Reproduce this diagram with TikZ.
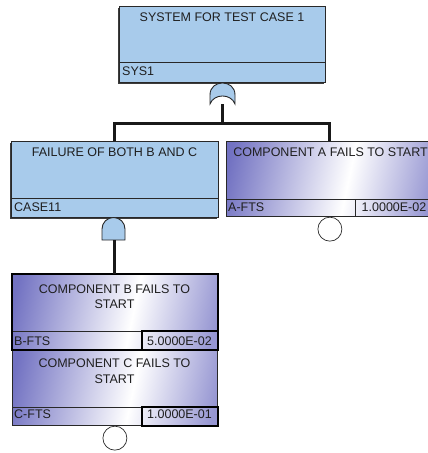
\documentclass[tikz,border=0pt]{standalone}
\usepackage{fontspec}
\setmainfont{Liberation Sans}
\usetikzlibrary{shadows}

\definecolor{gatefill}{RGB}{168,203,235}
\definecolor{evdark}{RGB}{114,114,194}
\definecolor{evlight}{RGB}{150,150,210}
\definecolor{boxedge}{RGB}{40,40,40}
\definecolor{shadowgray}{RGB}{60,60,60}
\definecolor{wire}{RGB}{25,25,25}

% basic-event fill: violet at the edges, white just right of centre
\pgfdeclarehorizontalshading{eventshade}{100bp}{%
  color(0bp)=(evdark); color(22bp)=(evdark); color(55bp)=(white);
  color(78bp)=(evlight); color(100bp)=(evlight)}

\tikzset{
  txt/.style={font=\fontsize{12.5}{15}\selectfont, inner sep=0pt, text=black!88},
  titletxt/.style={txt, anchor=base},
  idtxt/.style={txt, anchor=base west},
  valtxt/.style={txt, anchor=base},
  gatebox/.style={draw=boxedge, line width=0.8pt, fill=gatefill, anchor=north west,
    inner sep=0pt, drop shadow={shadow xshift=-1.3pt, shadow yshift=-1.3pt,
    fill=shadowgray, opacity=1}},
  eventbox/.style={draw=boxedge, line width=0.8pt, shading=eventshade, shading angle=-12,
    anchor=north west, inner sep=0pt},
  valcell/.style={draw=boxedge, line width=0.8pt, anchor=north west, inner sep=0pt},
  divider/.style={draw=boxedge, line width=0.8pt},
  conn/.style={draw=wire, line width=3pt, line join=miter},
  gateshape/.style={draw=boxedge, line width=0.9pt, fill=gatefill},
  basiccirc/.style={circle, draw=boxedge, line width=0.7pt, fill=white,
    minimum size=24pt, inner sep=0pt, anchor=north},
}

\begin{document}
\begin{tikzpicture}[x=1pt, y=-1pt]
\useasboundingbox (0,0) rectangle (428,453);
\clip (0,0) rectangle (428,453);

% ---- top event ----
\node[gatebox, minimum width=206pt, minimum height=76pt] (sys) at (119,6) {};
\draw[divider] (119,62) -- (325,62);
\node[titletxt] (systitle) at (222,21.7) {SYSTEM FOR TEST CASE 1};
\node[idtxt] (sysid) at (122,75.5) {SYS1};

% OR gate under the top event
\path[gateshape] (210,104) -- (210,95)
  .. controls (210,87) and (216,83) .. (222.5,83)
  .. controls (229,83) and (235,87) .. (235,95) -- (235,104)
  .. controls (231,93.3) and (214,93.3) .. (210,104) -- cycle;
\coordinate (orout) at (222.5,104);
\coordinate (bus) at (222.5,123);

% ---- intermediate event CASE11 ----
\node[gatebox, minimum width=207pt, minimum height=76pt] (case) at (11,141) {};
\draw[divider] (11,198) -- (218,198);
\node[titletxt] (casetitle) at (114.5,156) {FAILURE OF BOTH B AND C};
\node[idtxt] (caseid) at (14,211.5) {CASE11};

% AND gate under CASE11
\path[gateshape] (102,240) -- (102,229)
  .. controls (102,222.6) and (107.1,217.5) .. (113.5,217.5)
  .. controls (119.9,217.5) and (125,222.6) .. (125,229) -- (125,240) -- cycle;
\coordinate (andout) at (114,240);

% ---- basic event A-FTS ----
\node[eventbox, minimum width=207pt, minimum height=75pt] (afts) at (226,141) {};
\draw[divider] (226,199) -- (433,199);
\node[valcell, minimum width=78pt, minimum height=17pt] (aval) at (355,199) {};
\node[titletxt] (atitle) at (330.5,156) {COMPONENT A FAILS TO START};
\node[idtxt] (aid) at (228,211) {A-FTS};
\node[valtxt] (avaltxt) at (394,211) {1.0000E-02};
\node[basiccirc] (acirc) at (afts.south) {};

% ---- basic event B-FTS ----
\node[eventbox, minimum width=205pt, minimum height=75pt] (bfts) at (12,274) {};
\node[valcell, minimum width=75pt, minimum height=18pt] (bval) at (142,331) {};
\draw[divider] (12,331) -- (142,331);
\node[titletxt] (btitle1) at (114.5,293) {COMPONENT B FAILS TO};
\node[titletxt] (btitle2) at (114.5,308) {START};
\node[idtxt] (bid) at (14,345) {B-FTS};
\node[valtxt] (bvaltxt) at (179.5,345) {5.0000E-02};

% ---- basic event C-FTS ----
\node[eventbox, minimum width=205pt, minimum height=76pt] (cfts) at (12,349) {};
\node[valcell, minimum width=75pt, minimum height=18pt] (cval) at (142,407) {};
\draw[divider] (12,407) -- (142,407);
\node[titletxt] (ctitle1) at (114.5,367) {COMPONENT C FAILS TO};
\node[titletxt] (ctitle2) at (114.5,383) {START};
\node[idtxt] (cid) at (14,418) {C-FTS};
\node[valtxt] (cvaltxt) at (179.5,418) {1.0000E-01};
\node[basiccirc] (ccirc) at (cfts.south) {};

% heavy outline of the B-FTS block
\draw[draw=black, line width=1.8pt] (bfts.north west) rectangle (bfts.south east);
\draw[draw=black, line width=1.6pt] (bval.north west) rectangle (bval.south east);
\draw[draw=black, line width=1.4pt] (cval.north west) rectangle (cval.south east);

% ---- connectors ----
\draw[conn] (orout) -- (bus);
\draw[conn] (case.north) |- (bus) -| (afts.north);
\draw[conn] (andout) -- (andout |- bfts.north);
\end{tikzpicture}
\end{document}
